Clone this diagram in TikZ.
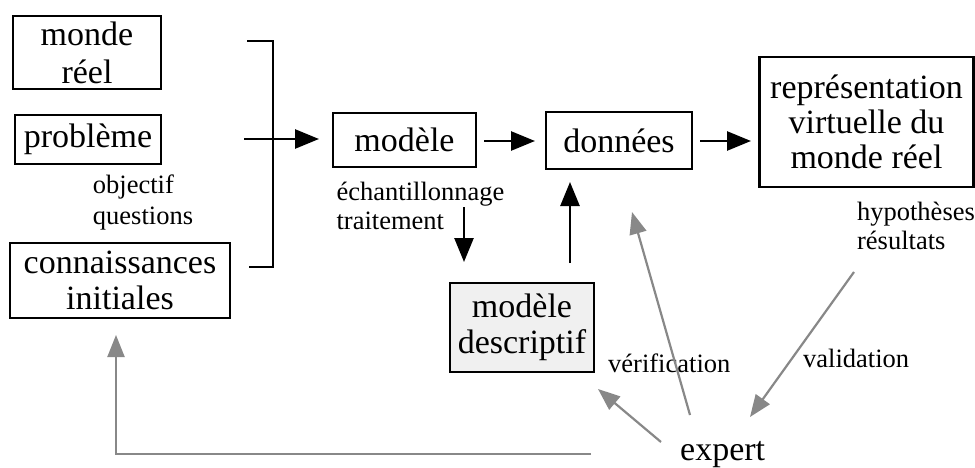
\documentclass[tikz,border=0pt]{standalone}
\usepackage{fontspec}
\setmainfont{Liberation Serif}
\usetikzlibrary{arrows.meta}
\newcommand\bigf{\fontsize{34}{36}\selectfont}
\newcommand\smallf{\fontsize{26.5}{30}\selectfont}
\definecolor{arrgray}{RGB}{136,136,136}
\definecolor{boxfill}{RGB}{240,240,240}
\begin{document}
\begin{tikzpicture}[x=1pt,y=-1pt,
  box/.style={draw,line width=2.8pt,inner sep=0pt,align=center,font=\bigf},
  lbl/.style={inner sep=0pt,font=\smallf},
  blk/.style={line width=2.6pt,-{Triangle[length=24pt,width=19pt]}},
  gry/.style={draw=arrgray,line width=2.2pt,-{Triangle[length=22pt,width=17pt]},color=arrgray}]
\useasboundingbox (0,0) rectangle (975,468);
% boxes
\node[box,minimum width=148,minimum height=73] (monde) at (87,52.5) {monde\\[2pt]réel};
\node[box,minimum width=146,minimum height=49] (probleme) at (88,139.5) {problème};
\node[box,minimum width=220,minimum height=75] (conn) at (120,280.5) {connaissances\\initiales};
\node[box,minimum width=143,minimum height=54] (modele) at (404.5,140) {modèle};
\node[box,minimum width=146,minimum height=57] (donnees) at (619,140.5) {données};
\node[box,minimum width=214,minimum height=130] (repr) at (866.5,122) {représentation\\[-1pt]virtuelle du\\[-1pt]monde réel};
\node[box,fill=boxfill,minimum width=144,minimum height=89] (desc) at (522,327.5) {modèle\\descriptif};
% labels
\node[lbl,align=left] (obj) at (143,202.5) {objectif\\[1pt]questions};
\node[lbl,align=left] (ech) at (420.5,205.5) {échantillonnage\\[-1pt]traitement};
\node[lbl,align=left] (hyp) at (916,225.8) {hypothèses\\[-1pt]résultats};
\node[lbl,anchor=base west] (verif) at (608,372) {vérification};
\node[lbl,anchor=base west] (valid) at (803,367) {validation};
\node[inner sep=0pt,font=\bigf,anchor=base west] (expert) at (680,460) {expert};
% bracket
\coordinate (b1) at (247,41);
\coordinate (b2) at (273,41);
\coordinate (b3) at (273,267);
\coordinate (b4) at (249,267);
\draw[line width=2.6pt] (b1) -- (b2) -- (b3) -- (b4);
% black arrows
\coordinate (a1) at (244,139);
\coordinate (a1e) at (319,139);
\draw[blk] (a1) -- (a1e);
\coordinate (a2) at (484,141);
\coordinate (a2e) at (535,141);
\draw[blk] (a2) -- (a2e);
\coordinate (a3) at (700,141);
\coordinate (a3e) at (751,141);
\draw[blk] (a3) -- (a3e);
\coordinate (a4) at (464,207);
\coordinate (a4e) at (464,262);
\draw[blk] (a4) -- (a4e);
\coordinate (a5) at (570,263);
\coordinate (a5e) at (570,182);
\draw[blk] (a5) -- (a5e);
% gray arrows
\coordinate (g1) at (591,454);
\coordinate (g1c) at (116,454);
\coordinate (g1e) at (116,335);
\draw[gry] (g1) -- (g1c) -- (g1e);
\coordinate (g2) at (661,442);
\coordinate (g2e) at (598,389);
\draw[gry] (g2) -- (g2e);
\coordinate (g3) at (690,415);
\coordinate (g3e) at (632,212);
\draw[gry] (g3) -- (g3e);
\coordinate (g4) at (854,272);
\coordinate (g4e) at (750,417);
\draw[gry] (g4) -- (g4e);
\end{tikzpicture}
\end{document}
